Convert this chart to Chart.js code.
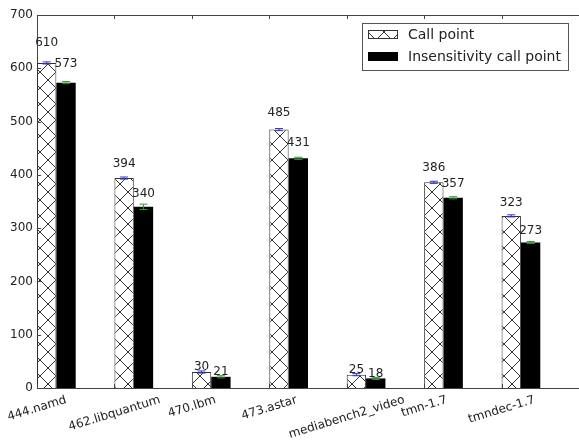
<!DOCTYPE html>
<html>
<head>
<meta charset="utf-8">
<script src="https://cdn.jsdelivr.net/npm/chart.js@4.4.0/dist/chart.umd.min.js"></script>
<style>
html, body { margin: 0; padding: 0; background: #fff; }
</style>
</head>
<body>
<canvas id="myChart" width="579" height="445"></canvas>
<script>
// benchmarks on the x axis
var benchmarks = ['444.namd', '462.libquantum', '470.lbm', '473.astar', 'mediabench2_video', 'tmn-1.7', 'tmndec-1.7'];
var seriesNames = ['Call point', 'Insensitivity call point'];
var callPoint = [610, 394, 30, 485, 25, 386, 323];
var insensitivePoint = [573, 340, 21, 431, 18, 357, 273];
// small error bars on top of the bars
var callPointErr = [2, 2, 2, 2, 2, 2, 2];
var insensitiveErr = [2, 5, 2, 2, 2, 2, 2];
var yMax = 700;
var yStep = 100;

Chart.defaults.font.family = 'DejaVu Sans';
Chart.defaults.color = '#222';

var makeHatch = function(ctx){
	var size = 16;
	var c = document.createElement('canvas');
	c.width = size; c.height = size;
	var g = c.getContext('2d');
	g.fillStyle = '#fff';
	g.fillRect(0, 0, size, size);
	g.strokeStyle = '#333';
	g.lineWidth = 1;
	g.beginPath();
	for (var k = -1; k <= 1; k++) {
		g.moveTo(k*size, 0); g.lineTo(k*size + size, size);
		g.moveTo(k*size + size, 0); g.lineTo(k*size, size);
	}
	g.stroke();
	return ctx.createPattern(c, 'repeat');
}

var ctx = document.getElementById('myChart').getContext('2d');
var hatch = makeHatch(ctx);

var toPoints = function(values){
	// group of two bars sits on the left half of each slot
	return values.map(function(v, i){ return {x: i + 0.25, y: v}; });
}

var decorPlugin = {
	id: 'decor',
	afterDatasetsDraw: function(chart){
		var c = chart.ctx, area = chart.chartArea;
		var xs = chart.scales.x, ys = chart.scales.y;
		c.save();

		// top spine
		c.strokeStyle = '#444';
		c.lineWidth = 1;
		c.beginPath();
		c.moveTo(area.left, area.top + 0.5);
		c.lineTo(area.right, area.top + 0.5);
		c.stroke();

		// inward ticks
		c.beginPath();
		for (var v = 0; v <= yMax; v += yStep) {
			var py = Math.round(ys.getPixelForValue(v)) + 0.5;
			c.moveTo(area.left, py); c.lineTo(area.left + 4, py);
		}
		benchmarks.forEach(function(n, i){
			var px = Math.round(xs.getPixelForValue(i)) + 0.5;
			c.moveTo(px, area.top); c.lineTo(px, area.top + 4);
			c.moveTo(px, area.bottom); c.lineTo(px, area.bottom - 4);
		});
		c.stroke();

		// error bars
		var errs = [callPointErr, insensitiveErr];
		var vals = [callPoint, insensitivePoint];
		var errColors = ['#3535d0', '#2a9a2a'];
		for (var d = 0; d < 2; d++) {
			var meta = chart.getDatasetMeta(d);
			c.strokeStyle = errColors[d];
			c.lineWidth = 1;
			meta.data.forEach(function(bar, i){
				var top = ys.getPixelForValue(vals[d][i] + errs[d][i]);
				var bot = ys.getPixelForValue(vals[d][i] - errs[d][i]);
				c.beginPath();
				c.moveTo(bar.x, top); c.lineTo(bar.x, bot);
				c.moveTo(bar.x - 4, top); c.lineTo(bar.x + 4, top);
				c.moveTo(bar.x - 4, bot); c.lineTo(bar.x + 4, bot);
				c.stroke();
			});
		}

		// value labels above bars
		c.fillStyle = '#222';
		c.font = '12px "DejaVu Sans"';
		c.textAlign = 'center';
		c.textBaseline = 'bottom';
		for (var d2 = 0; d2 < 2; d2++) {
			var meta2 = chart.getDatasetMeta(d2);
			meta2.data.forEach(function(bar, i){
				var v = vals[d2][i];
				c.fillText(String(v), bar.x, ys.getPixelForValue(v * 1.05) + 2);
			});
		}

		// rotated category labels, centred on the ticks
		var angle = 17 * Math.PI / 180;
		c.font = '12px "DejaVu Sans"';
		c.textBaseline = 'middle';
		benchmarks.forEach(function(name, i){
			var w = c.measureText(name).width;
			var h = 14;
			var boxH = w * Math.sin(angle) + h * Math.cos(angle);
			var px = xs.getPixelForValue(i);
			c.save();
			c.translate(px, area.bottom + 5 + boxH / 2);
			c.rotate(-angle);
			c.fillText(name, 0, 0);
			c.restore();
		});

		// legend box
		c.fillStyle = '#fff';
		c.fillRect(362, 23, 206, 47);
		c.strokeStyle = '#555';
		c.strokeRect(362.5, 23.5, 206, 47);
		c.fillStyle = hatch;
		c.fillRect(368, 30, 30, 9);
		c.strokeStyle = '#333';
		c.strokeRect(368.5, 30.5, 29, 8);
		c.fillStyle = '#000';
		c.fillRect(368, 52, 30, 9);
		c.fillStyle = '#222';
		c.font = '14px "DejaVu Sans"';
		c.textAlign = 'left';
		c.textBaseline = 'middle';
		c.fillText(chart.data.datasets[0].label, 408, 35);
		c.fillText(chart.data.datasets[1].label, 408, 57);

		c.restore();
	}
};

var chart = new Chart(ctx, {
	type: 'bar',
	data: {
		datasets: [{
			label: seriesNames[0],
			data: toPoints(callPoint),
			backgroundColor: hatch,
			borderColor: '#333',
			borderWidth: 1,
			categoryPercentage: 0.5,
			barPercentage: 1.0
		}, {
			label: seriesNames[1],
			data: toPoints(insensitivePoint),
			backgroundColor: '#000',
			borderColor: '#000',
			borderWidth: 0,
			categoryPercentage: 0.5,
			barPercentage: 1.0
		}]
	},
	options: {
		responsive: false,
		animation: false,
		layout: { padding: { top: 15, right: -1, bottom: 57, left: 0 } },
		plugins: {
			legend: { display: false },
			tooltip: { enabled: false }
		},
		scales: {
			x: {
				type: 'linear',
				min: 0,
				max: benchmarks.length,
				offset: false,
				grid: { display: false, drawTicks: false, offset: false },
				border: { display: true, color: '#444', width: 1 },
				ticks: { display: false, stepSize: 1 }
			},
			y: {
				min: 0,
				max: yMax,
				grid: { display: false, drawTicks: false },
				border: { display: true, color: '#444', width: 1 },
				ticks: { stepSize: yStep, color: '#222', font: { size: 12 }, padding: 4 },
				afterFit: function(scale){ scale.width = 37; }
			}
		}
	},
	plugins: [decorPlugin]
});
</script>
</body>
</html>
